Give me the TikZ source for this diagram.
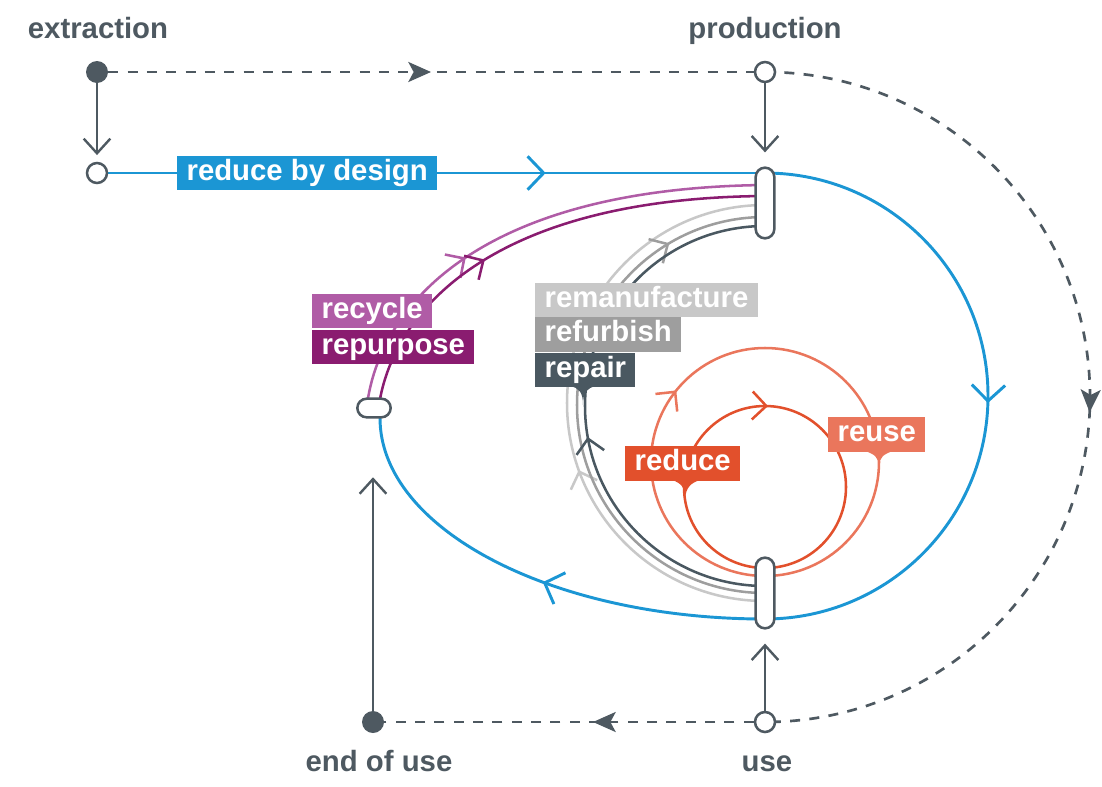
\documentclass[tikz,border=0pt]{standalone}
\usepackage{fontspec}
\setmainfont{Liberation Sans}
\usetikzlibrary{arrows.meta,decorations.markings,backgrounds}

\definecolor{ink}{RGB}{78,89,97}
\definecolor{cblue}{RGB}{27,150,212}
\definecolor{crecy}{RGB}{176,92,166}
\definecolor{crepu}{RGB}{138,28,112}
\definecolor{creman}{RGB}{200,200,200}
\definecolor{crefu}{RGB}{158,158,158}
\definecolor{crepa}{RGB}{74,88,97}
\definecolor{credu}{RGB}{226,80,44}
\definecolor{creus}{RGB}{234,118,92}

\tikzset{
  chevat/.style={postaction={decorate,decoration={markings,mark=at position #1 with {\arrow{Straight Barb[length=10.5pt,width=21pt]}}}}},
  bigchevat/.style={postaction={decorate,decoration={markings,mark=at position #1 with {\arrow{Straight Barb[length=12pt,width=25pt]}}}}},
  dashtri/.style={postaction={decorate,decoration={markings,mark=at position #1 with {\arrow{Stealth[length=17pt,width=15pt,inset=4pt]}}}}},
  bl/.style={draw=cblue, line width=2.2pt},
  pl1/.style={draw=crecy, line width=1.9pt},
  pl2/.style={draw=crepu, line width=1.9pt},
  gl1/.style={draw=crepa, line width=1.9pt},
  gl2/.style={draw=crefu, line width=1.9pt},
  gl3/.style={draw=creman, line width=1.9pt},
  rl1/.style={draw=credu, line width=1.9pt},
  rl2/.style={draw=creus, line width=1.9pt},
  dsh/.style={draw=ink, line width=2pt, dash pattern=on 7.5pt off 7pt},
  conn/.style={draw=ink, line width=1.8pt, -{Straight Barb[length=11pt,width=20pt]}},
  opendot/.style={circle, draw=ink, line width=1.9pt, fill=white, minimum size=15pt, inner sep=0pt},
  fulldot/.style={circle, fill=ink, minimum size=16.5pt, inner sep=0pt},
  capsv/.style={rectangle, draw=ink, line width=1.9pt, fill=white, rounded corners=7pt, minimum width=14pt, minimum height=53pt, inner sep=0pt},
  capsh/.style={rectangle, draw=ink, line width=1.9pt, fill=white, rounded corners=7pt, minimum width=25pt, minimum height=14pt, inner sep=0pt},
  lbl/.style={font=\fontsize{22}{24}\selectfont\bfseries, text=white, inner xsep=7pt, inner ysep=2.6pt, text height=16pt, text depth=5pt, anchor=west},
  ttl/.style={font=\fontsize{22}{24}\selectfont\bfseries, text=ink, anchor=base, inner sep=0pt}
}

\begin{document}
\begin{tikzpicture}[x=0.75pt, y=-0.75pt]
\useasboundingbox (0,0) rectangle (1102,786);

% titles
\node[ttl] (textr) at (98,38) {extraction};
\node[ttl] (tprod) at (765,38) {production};
\node[ttl] (teou) at (379,771) {end of use};
\node[ttl] (tuse) at (767,771) {use};

% stations
\node[fulldot] (ext) at (97,72) {};
\node[opendot] (prod) at (765,72) {};
\node[opendot] (c1) at (97,173) {};
\node[capsv] (pcap) at (765,203) {};
\node[capsv] (ucap) at (765,593) {};
\node[capsh] (recap) at (374,408) {};
\node[opendot] (use) at (765,722) {};
\node[fulldot] (eou) at (373,722) {};

% labels
\node[lbl, fill=cblue] (lrbd) at (177,173) {reduce by design};
\node[lbl, fill=crecy] (lrecy) at (312,311) {recycle};
\node[lbl, fill=crepu] (lrepu) at (312,347) {repurpose};
\node[lbl, fill=creman] (lreman) at (535,300) {remanufacture};
\node[lbl, fill=crefu] (lrefu) at (535,334.5) {refurbish};
\node[lbl, fill=crepa] (lrepa) at (535,370) {repair};
\node[lbl, fill=credu] (lredu) at (625,463.5) {reduce};
\node[lbl, fill=creus] (lreus) at (828,434.5) {reuse};

% label tails
\fill[crepa] (570,386) .. controls (579,388) and (583,392) .. (583,405) .. controls (583,392) and (587,388) .. (596,386) -- cycle;
\fill[credu] (672,480) .. controls (681,483) and (685,487) .. (685,499) .. controls (686,487) and (691,483) .. (700,480) -- cycle;
\fill[creus] (865,451) .. controls (874,454) and (879,457) .. (879,467) .. controls (879,457) and (884,454) .. (893,451) -- cycle;

% straight connectors
\draw[conn, shorten >=5pt] (ext) -- (c1);
\draw[conn, shorten >=10.5pt] (prod) -- (pcap);
\draw[conn, shorten >=10.5pt] (use) -- (ucap);
\draw[conn, shorten >=44pt] (eou) -- (eou |- recap.south);

\begin{scope}[on background layer]
% dashed flows
\draw[dsh, dashtri=0.5] (ext) -- (prod);
\draw[dsh, dashtri=0.515] (prod.center) arc[start angle=-90, end angle=90, radius=325];
\draw[dsh, dashtri=0.435] (use) -- (eou);

% blue loop
\draw[bl, bigchevat=0.666] (c1) -- (c1 -| pcap);
\draw[bl, bigchevat=0.51] (c1 -| pcap) arc[start angle=-90, end angle=90, radius=223];
\draw[bl, bigchevat=0.47] (765,619) arc[start angle=90, end angle=180, x radius=385, y radius=201] -- (380,408);

% purple
\draw[pl1, chevat=0.37] (367,405) .. controls (380,305) and (480,188) .. (765,185);
\draw[pl2, chevat=0.39] (379,405) .. controls (393,312) and (490,198) .. (765,196);

% gray
\draw[gl3, chevat=0.39] (765,601) arc[start angle=90, end angle=270, radius=198];
\draw[gl2, chevat=0.83] (765,593) arc[start angle=90, end angle=270, radius=188];
\draw[gl1, chevat=0.445] (765,586) arc[start angle=90, end angle=270, radius=180];

% red
\draw[rl2, chevat=0.358] (765,576) arc[start angle=90, end angle=450, radius=114];
\draw[rl1, chevat=0.506] (765,568) arc[start angle=90, end angle=450, radius=81];
\end{scope}
\end{tikzpicture}
\end{document}
